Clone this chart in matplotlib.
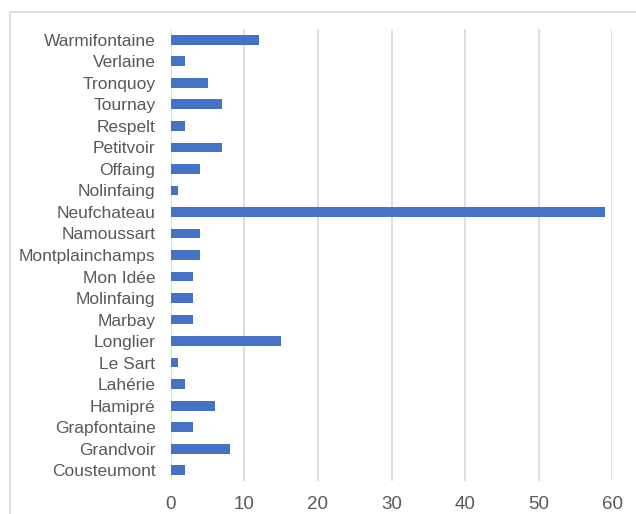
import matplotlib.pyplot as plt
from matplotlib.lines import Line2D

# villages, bottom to top as drawn
villages = ["Cousteumont", "Grandvoir", "Grapfontaine", "Hamipré", "Lahérie",
            "Le Sart", "Longlier", "Marbay", "Molinfaing", "Mon Idée",
            "Montplainchamps", "Namoussart", "Neufchateau", "Nolinfaing",
            "Offaing", "Petitvoir", "Respelt", "Tournay", "Tronquoy",
            "Verlaine", "Warmifontaine"]
counts = [2, 8, 3, 6, 2, 1, 15, 3, 3, 3, 4, 4, 59, 1, 4, 7, 2, 7, 5, 2, 12]
xticks = [0, 10, 20, 30, 40, 50, 60]

plt.rcParams['font.family'] = ['Liberation Sans', 'DejaVu Sans']

W, H = 636, 514
fig = plt.figure(figsize=(W / 100, H / 100), dpi=100)
ax = fig.add_axes([170.7 / W, 1 - 481 / H, (612.3 - 170.7) / W, (481 - 29) / H])

bar_color = "#4472C4"
text_color = "#595959"
grid_color = "#d9d9d9"

ypos = range(len(villages))
ax.barh(ypos, counts, height=0.45, color=bar_color, zorder=3)
ax.set_yticks(list(ypos))
ax.set_yticklabels(villages, fontsize=12.5, color=text_color)
ax.set_ylim(-0.5, len(villages) - 0.5)
ax.set_xlim(0, 60)
ax.set_xticks(xticks)
ax.set_xticklabels([str(t) for t in xticks], fontsize=13.5, color=text_color)
ax.tick_params(length=0)
ax.tick_params(axis='x', pad=11)
ax.tick_params(axis='y', pad=11)
ax.grid(axis='x', color=grid_color, linewidth=1.2, zorder=0)
for s in ax.spines.values():
    s.set_visible(False)

# chart border (runs off the right and bottom of the image)
fig.add_artist(Line2D([10 / W, 10 / W], [0, 1 - 12 / H], color=grid_color, linewidth=1.2))
fig.add_artist(Line2D([10 / W, 1], [1 - 12 / H, 1 - 12 / H], color=grid_color, linewidth=1.2))

fig.savefig("out.png", dpi=100)
